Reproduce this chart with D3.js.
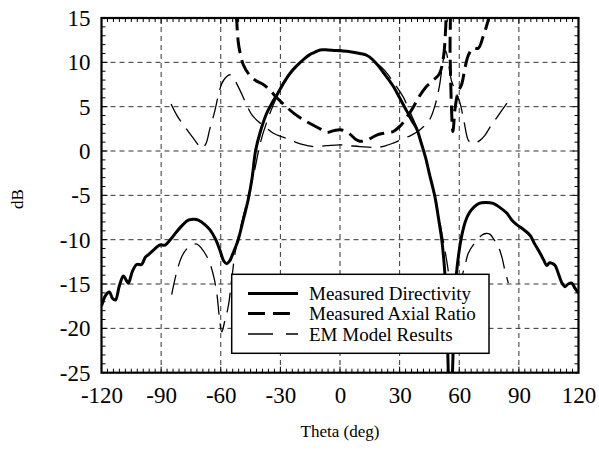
<!DOCTYPE html>
<html><head><meta charset="utf-8">
<script src="https://cdn.jsdelivr.net/npm/d3@7"></script>
<style>body{margin:0;background:#fff}svg{display:block}text{font-family:"Liberation Serif","Times New Roman",serif;fill:#000}</style>
</head><body><svg id="c" width="599" height="452"></svg>
<script>
// ---------- data ----------
const xTicks = [-120, -90, -60, -30, 0, 30, 60, 90, 120];
const yTicks = [15, 10, 5, 0, -5, -10, -15, -20, -25];
const seriesNames = ["Measured Directivity", "Measured Axial Ratio", "EM Model Results"];

const dirTheta = [-120,-118,-116,-114.5,-113,-111,-109,-107.5,-106.5,-104.5,-102.3,-99.8,-98,-96.5,-94,-92,-90.6,-88,-85,-82.2,-79,-76.3,-73.5,-71.3,-68,-65.4,-62.5,-60.4,-58.5,-57,-55.5,-54.5,-52.5,-51.2,-48.5,-46.2,-44.2,-42.5,-40.3,-37,-34,-31.8,-28,-25,-21.8,-18,-15,-13,-10,-6,0,5,10,13.4,16,18.5,22,26.8,30,33.6,36,38.6,41,43,45,47.8,49.5,51.2,52.5,53.5,54.5,55.5,56.6,57.5,58.6,60,61.2,63,65,67.5,70,73,77,80,83.9,86.5,88.9,92,95.6,98,100.6,102.5,104,105.5,107,108.2,110,111.5,113.2,114.8,116.6,118.3,120];
const dirDB = [-17.5,-16.3,-15.9,-16.6,-16.8,-15.2,-14.1,-14.6,-14.9,-13.6,-12.8,-12.8,-12.0,-11.7,-11.2,-10.8,-10.6,-10.6,-9.9,-9.1,-8.3,-7.8,-7.7,-7.8,-8.3,-8.9,-10.0,-11.2,-12.4,-12.7,-12.4,-11.9,-10.8,-10.0,-7.6,-5.5,-3.0,0.0,2.0,4.2,5.5,6.3,7.8,8.8,9.6,10.4,10.9,11.1,11.4,11.4,11.3,11.2,11.0,10.8,10.4,9.8,8.8,7.3,6.0,4.5,3.5,2.5,0.8,-0.7,-2.6,-5.2,-7.5,-10.0,-13.0,-17.0,-25.0,-32.0,-25.0,-18.0,-13.8,-11.2,-9.6,-8.0,-7.0,-6.3,-5.9,-5.8,-5.9,-6.3,-7.0,-7.8,-8.3,-8.8,-9.5,-10.5,-11.5,-12.3,-12.9,-12.6,-12.7,-12.9,-13.9,-14.8,-15.3,-15.0,-14.9,-15.5,-16.0];

const arTheta = [-53,-52,-51.2,-50,-48.6,-46,-42.8,-38.6,-35,-31.8,-28,-23.5,-19,-15.1,-10,-6.7,-3,0,3,5,8,10,13.4,16,18.5,22,26.8,30.2,33,37,40,43.6,47,50,52,53.2,54,54.8,55.4,56,56.8,58,59.5,61.2,63,64.6,67,69.6,72,74,76];
const arDB = [18,14.8,12.3,10.8,9.7,8.7,8.0,7.5,6.8,6.0,5.2,4.3,3.6,3.1,2.5,2.1,2.3,2.4,2.2,1.9,1.3,1.1,1.2,1.5,1.8,2.0,2.2,2.8,3.6,5.0,6.2,7.3,8.0,8.7,10.5,14,18,18,11,5.5,2.2,5.0,6.7,7.5,9.5,10.8,11.6,11.6,12.9,14.3,16];

const emArTheta = [-85,-82,-78,-74,-71,-69.5,-67.5,-65.5,-63,-61.2,-59.5,-57.5,-55.3,-53.5,-52,-50,-47.8,-44.4,-41,-38.6,-33.5,-26.8,-20,-13.4,-7,0,5,10,18.5,23,26.8,32,36,40.3,45,48,50,52,53.2,54.5,56,58,60.4,62.5,64.6,66.3,68,70.4,73,75.5,79,84];
const emArDB = [5.3,4.0,2.7,1.5,0.6,0.3,0.8,2.5,4.5,6.3,7.6,8.3,8.6,8.2,7.6,6.7,5.6,4.1,3.3,2.9,2.0,1.4,0.8,0.5,0.6,0.7,0.6,0.5,0.4,0.6,0.9,1.4,1.8,2.4,3.5,5.3,7.3,10.3,11.3,10.0,8.0,6.8,5.4,3.2,1.2,0.9,0.9,1.2,1.8,2.7,3.8,5.4];

const emDirTheta = [-84.7,-82,-79.6,-77,-74.6,-72,-69.6,-67.5,-65.4,-63.5,-62,-60.8,-59.5,-58,-56.2,-54.5,-52.8,-51.2,-48.5,-46,-43,-40,-36,-32,-28,-24,-20,-15,-10,-5,0,5,10,14,18,22,26.8,31.8,35,38,41,44,47,50.3,52.8,54.5,56,57.5,59.5,61,62.8,64.6,68,71.3,73.5,75.5,77.5,79.7,81.5,83,84.7];
const emDirDB = [-16.2,-13.5,-11.9,-11.0,-10.6,-10.5,-11.0,-11.7,-12.7,-14.2,-16.0,-18.5,-20.4,-19.2,-17.5,-14.5,-11.5,-9.7,-7.2,-5.0,-2.2,1.0,3.8,6.0,7.8,9.0,10.0,10.9,11.3,11.4,11.4,11.2,11.0,10.7,10.0,9.2,7.8,6.1,4.5,3.0,1.0,-1.6,-4.3,-8.1,-11.2,-13.6,-17.0,-20.0,-17.0,-14.5,-13.0,-11.5,-10.3,-9.5,-9.3,-9.4,-10.0,-10.8,-12.0,-13.5,-14.9];

// ---------- layout ----------
const L = 101.5, R = 578.5, T = 18, B = 372.7;
const svg = d3.select("#c");
const x = d3.scaleLinear().domain([-120, 120]).range([L, R]);
const y = d3.scaleLinear().domain([-25, 15]).range([B, T]);

svg.append("defs").append("clipPath").attr("id", "clip")
  .append("rect").attr("x", L).attr("y", T).attr("width", R - L).attr("height", B - T);

// grid
const g = svg.append("g");
g.selectAll(".vg").data(xTicks.slice(1, -1)).enter().append("line")
  .attr("x1", d => x(d)).attr("x2", d => x(d)).attr("y1", T).attr("y2", B)
  .attr("stroke", "#333").attr("stroke-width", 1).attr("stroke-dasharray", "5,4");
g.selectAll(".hg").data(yTicks.slice(1, -1)).enter().append("line")
  .attr("y1", d => y(d)).attr("y2", d => y(d)).attr("x1", L).attr("x2", R)
  .attr("stroke", "#333").attr("stroke-width", 1).attr("stroke-dasharray", "5,4");

// minor ticks (inward, all sides)
const xMinor = d3.range(-120, 120.01, 3);
const yMinor = d3.range(-25, 15.01, 1);
const tk = svg.append("g").attr("stroke", "#000").attr("stroke-width", 1);
xMinor.forEach(v => {
  const len = v % 30 === 0 ? 6 : 4;
  tk.append("line").attr("x1", x(v)).attr("x2", x(v)).attr("y1", B).attr("y2", B - len);
  tk.append("line").attr("x1", x(v)).attr("x2", x(v)).attr("y1", T).attr("y2", T + len);
});
yMinor.forEach(v => {
  const len = v % 5 === 0 ? 6 : 4;
  tk.append("line").attr("y1", y(v)).attr("y2", y(v)).attr("x1", L).attr("x2", L + len);
  tk.append("line").attr("y1", y(v)).attr("y2", y(v)).attr("x1", R).attr("x2", R - len);
});

// axes labels via d3 axes (plain hyphen minus)
const fmt = d => String(d);
const xAxis = d3.axisBottom(x).tickValues(xTicks).tickSize(0).tickPadding(15).tickFormat(fmt);
const yAxis = d3.axisLeft(y).tickValues(yTicks).tickSize(0).tickPadding(11).tickFormat(fmt);
const gx = svg.append("g").attr("transform", `translate(0,${B})`).call(xAxis);
const gy = svg.append("g").attr("transform", `translate(${L},0)`).call(yAxis);
[gx, gy].forEach(a => {
  a.select(".domain").remove();
  a.selectAll("text").style("font-family", '"Liberation Serif","Times New Roman",serif').style("font-size", "23px").attr("fill", "#000");
});
gx.selectAll("text").attr("dy", "0.71em").attr("y", 14);

// curves
const line = d3.line().x(d => x(d[0])).y(d => y(d[1])).curve(d3.curveCatmullRom.alpha(0.5));
const plot = svg.append("g").attr("clip-path", "url(#clip)");
const zip = (a, b) => a.map((v, i) => [v, b[i]]);
plot.append("path").datum(zip(emDirTheta, emDirDB)).attr("d", line)
  .attr("fill", "none").attr("stroke", "#000").attr("stroke-width", 1.3).attr("stroke-dasharray", "20,9");
plot.append("path").datum(zip(emArTheta, emArDB)).attr("d", line)
  .attr("fill", "none").attr("stroke", "#000").attr("stroke-width", 1.3).attr("stroke-dasharray", "20,9");
plot.append("path").datum(zip(arTheta, arDB)).attr("d", line)
  .attr("fill", "none").attr("stroke", "#000").attr("stroke-width", 3).attr("stroke-dasharray", "16,7");
plot.append("path").datum(zip(dirTheta, dirDB)).attr("d", line)
  .attr("fill", "none").attr("stroke", "#000").attr("stroke-width", 3);

// frame
svg.append("rect").attr("x", L).attr("y", T).attr("width", R - L).attr("height", B - T)
  .attr("fill", "none").attr("stroke", "#000").attr("stroke-width", 2.2);

// titles
svg.append("text").attr("x", (L + R) / 2).attr("y", 437).attr("text-anchor", "middle")
  .style("font-size", "17px").text("Theta (deg)");
svg.append("text").attr("transform", "translate(23,199) rotate(-90)").attr("text-anchor", "middle")
  .style("font-size", "17px").text("dB");

// legend
const lg = svg.append("g");
lg.append("rect").attr("x", 231.7).attr("y", 274.3).attr("width", 489 - 231.7).attr("height", 353.3 - 274.3)
  .attr("fill", "#fff").attr("stroke", "#000").attr("stroke-width", 1.5);
const styles = [
  {w: 3, dash: null},
  {w: 3, dash: "17,8"},
  {w: 1.3, dash: "25,13,12,13"}
];
const rowsY = [293.5, 313.5, 334];
seriesNames.forEach((n, i) => {
  const ln = lg.append("line").attr("x1", 248).attr("x2", 298).attr("y1", rowsY[i]).attr("y2", rowsY[i])
    .attr("stroke", "#000").attr("stroke-width", styles[i].w);
  if (styles[i].dash) ln.attr("stroke-dasharray", styles[i].dash);
  lg.append("text").attr("x", 309).attr("y", rowsY[i]).attr("dy", "0.35em")
    .style("font-size", "19px").text(n);
});
</script></body></html>
